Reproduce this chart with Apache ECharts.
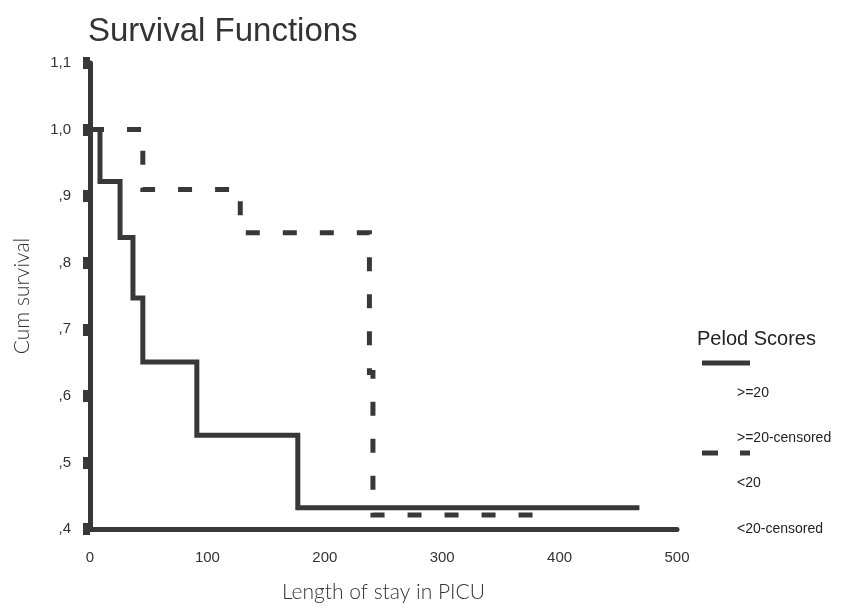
<!DOCTYPE html>
<html>
<head>
<meta charset="utf-8">
<script src="https://cdn.jsdelivr.net/npm/echarts@6/dist/echarts.min.js"></script>
<style>
  html, body { margin: 0; padding: 0; background: #fff; }
  #chart { width: 850px; height: 610px; }
</style>
</head>
<body>
<div id="chart"></div>
<script>
// * survival step chart
const chart = echarts.init(document.getElementById('chart'))

// days (x) and cumulative survival (y) at each step
const highX = [0, 8.5, 25.6, 36.6, 45, 91, 177, 468]
const highY = [1.0, 0.922, 0.838, 0.747, 0.651, 0.541, 0.432, 0.432]
const lowX = [0, 45, 128, 238, 241, 386]
const lowY = [1.0, 0.910, 0.845, 0.635, 0.421, 0.421]

const legendTitle = 'Pelod Scores'
const legendNames = ['>=20', '>=20-censored', '<20', '<20-censored']

const ink = '#383838'
const pairs = (xs, ys) => xs.map((x, i) => [x, ys[i]])

// 1,1  1,0  ,9  ,8 ...
function fmtY(v) {
  const s = v.toFixed(1).replace('.', ',')
  return v < 0.95 ? s.replace(/^0/, '') : s
}

const lineStyleBase = { color: ink, width: 5, cap: 'butt', join: 'miter' }
const labelFont = 'Liberation Sans, Arial, sans-serif'

const option = {
  backgroundColor: '#fff',
  animation: false,
  title: {
    text: 'Survival Functions',
    left: 83,
    top: 10,
    textStyle: { color: '#333', fontSize: 33, fontWeight: 'normal', fontFamily: labelFont }
  },
  grid: { left: 90, right: 173, top: 63, bottom: 81, outerBoundsMode: 'none', containLabel: false },
  xAxis: {
    type: 'value',
    min: 0,
    max: 500,
    interval: 100,
    name: 'Length of stay in PICU',
    nameLocation: 'middle',
    nameGap: 53,
    nameTextStyle: { color: '#333', fontSize: 21, fontFamily: 'Lato, Open Sans, sans-serif', fontWeight: 300 },
    axisLine: { lineStyle: { color: ink, width: 5 } },
    axisTick: { show: false },
    splitLine: { show: false },
    axisLabel: { color: '#333', fontSize: 15, margin: 21, fontFamily: labelFont }
  },
  yAxis: {
    type: 'value',
    min: 0.4,
    max: 1.1,
    interval: 0.1,
    name: 'Cum survival',
    nameLocation: 'middle',
    nameGap: 57,
    nameTextStyle: { color: '#333', fontSize: 21, fontFamily: 'Lato, Open Sans, sans-serif', fontWeight: 300 },
    axisLine: { show: true, lineStyle: { color: ink, width: 5 } },
    axisTick: { show: true, length: 7, lineStyle: { color: ink, width: 12 } },
    splitLine: { show: false },
    axisLabel: { color: '#333', fontSize: 15, margin: 19, formatter: fmtY, fontFamily: labelFont }
  },
  series: [
    {
      name: legendNames[0],
      type: 'line',
      step: 'end',
      symbol: 'none',
      data: pairs(highX, highY),
      lineStyle: lineStyleBase
    },
    {
      name: legendNames[2],
      type: 'line',
      step: 'end',
      symbol: 'none',
      data: pairs(lowX, lowY),
      lineStyle: Object.assign({}, lineStyleBase, { type: [14, 23] })
    }
  ],
  // legend drawn by hand to copy the stacked layout
  graphic: [
    { type: 'text', left: 697, top: 329, style: { text: legendTitle, fill: '#222', font: '20px ' + labelFont } },
    { type: 'line', shape: { x1: 702, y1: 363, x2: 750, y2: 363 }, style: { stroke: ink, lineWidth: 5 } },
    { type: 'text', left: 737, top: 386, style: { text: legendNames[0], fill: '#222', font: '14px ' + labelFont } },
    { type: 'text', left: 737, top: 431, style: { text: legendNames[1], fill: '#222', font: '14px ' + labelFont } },
    { type: 'line', shape: { x1: 702, y1: 453, x2: 750, y2: 453 }, style: { stroke: ink, lineWidth: 5, lineDash: [16, 22] } },
    { type: 'text', left: 737, top: 476, style: { text: legendNames[2], fill: '#222', font: '14px ' + labelFont } },
    { type: 'text', left: 737, top: 522, style: { text: legendNames[3], fill: '#222', font: '14px ' + labelFont } }
  ]
}

chart.setOption(option)
</script>
</body>
</html>
